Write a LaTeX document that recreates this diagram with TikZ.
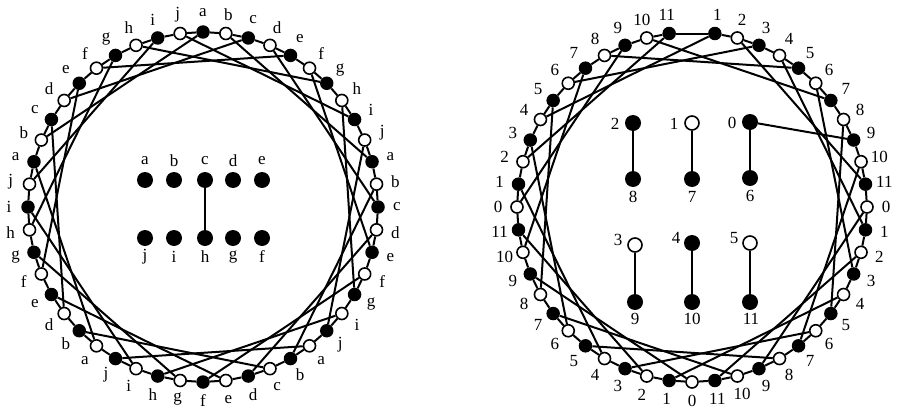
\documentclass[tikz,border=0pt]{standalone}
\usepackage{fontspec}
\setmainfont{Liberation Serif}
\begin{document}
\begin{tikzpicture}[x=1pt,y=-1pt,
  bv/.style={circle,fill=black,inner sep=0pt,minimum size=13.5pt},
  wv/.style={circle,draw=black,fill=white,line width=1.6pt,inner sep=0pt,minimum size=12pt},
  ibv/.style={circle,fill=black,inner sep=0pt,minimum size=16pt},
  iwv/.style={circle,draw=black,fill=white,line width=1.6pt,inner sep=0pt,minimum size=14pt},
  ed/.style={line width=2pt},
  lab/.style={font=\fontsize{17}{17}\selectfont,inner sep=0pt}]
\useasboundingbox (0,0) rectangle (901,412);

% ---------- left circle ----------
\foreach \p/\t in {0/a,1/b,2/c,3/d,4/e,5/f,6/g,7/h,8/i,9/j,10/a,11/b,12/c,13/d,14/e,15/f,16/g,
  17/i,18/j,19/a,20/b,21/c,22/d,23/e,24/f,25/g,26/h,27/i,28/j,29/a,30/b,
  31/d,32/e,33/f,34/g,35/h,36/i,37/j,38/a,39/b,40/c,41/d,42/e,43/f,44/g,45/h,46/i,47/j}{
  \pgfmathsetmacro\xx{203+175*sin(7.5*\p)}
  \pgfmathsetmacro\yy{207-175*cos(7.5*\p)}
  \pgfmathsetmacro\lx{203+194*sin(7.5*\p)}
  \pgfmathsetmacro\ly{207-194*cos(7.5*\p)}
  \ifodd\p
    \node[wv] (L\p) at (\xx,\yy) {};
  \else
    \node[bv] (L\p) at (\xx,\yy) {};
  \fi
  \node[lab] (LT\p) at (\lx,\ly) {\t};
}
\foreach \p in {0,...,47}{
  \pgfmathtruncatemacro\q{mod(\p+1,48)}
  \draw[ed] (L\p) -- (L\q);
}
\foreach \p in {1,3,...,47}{
  \pgfmathtruncatemacro\q{mod(\p+9,48)}
  \draw[ed] (L\p) -- (L\q);
}

% inner left
\foreach \n/\x in {a/145,b/174,c/205,d/233,e/262}{
  \node[ibv] (I\n) at (\x,180) {};
  \node[lab] at (\x,161) {\n};
}
\foreach \n/\x in {j/145,i/174,h/205,g/233,f/262}{
  \node[ibv] (I\n) at (\x,238) {};
  \node[lab] at (\x,257) {\n};
}
\draw[ed] (Ic) -- (Ih);

% ---------- right circle ----------
\foreach \p in {1,...,47}{
  \pgfmathsetmacro\xx{692+175*sin(7.5*\p)}
  \pgfmathsetmacro\yy{207-175*cos(7.5*\p)}
  \pgfmathsetmacro\lx{692+194*sin(7.5*\p)}
  \pgfmathsetmacro\ly{207-194*cos(7.5*\p)}
  \pgfmathtruncatemacro\n{mod(\p,12)}
  \ifodd\p
    \node[bv] (R\p) at (\xx,\yy) {};
  \else
    \node[wv] (R\p) at (\xx,\yy) {};
  \fi
  \node[lab] (RT\p) at (\lx,\ly) {\n};
}
\foreach \p in {1,...,46}{
  \pgfmathtruncatemacro\q{\p+1}
  \draw[ed] (R\p) -- (R\q);
}
\draw[ed] (R47) -- (R1);
\foreach \p in {2,4,...,46}{
  \pgfmathtruncatemacro\q{mod(\p+9,48)}
  \draw[ed] (R\p) -- (R\q);
}

% inner right
\node[ibv] (J2) at (633,123) {}; \node[lab] at (615,124) {2};
\node[iwv] (J1) at (692,123) {}; \node[lab] at (674,124) {1};
\node[ibv] (J0) at (750,122) {}; \node[lab] at (732,123) {0};
\node[ibv] (J8) at (633,179) {}; \node[lab] at (633,197) {8};
\node[ibv] (J7) at (692,179) {}; \node[lab] at (692,197) {7};
\node[ibv] (J6) at (750,178) {}; \node[lab] at (750,196) {6};
\node[iwv] (J3) at (635,245) {}; \node[lab] at (618,240) {3};
\node[ibv] (J4) at (692,243) {}; \node[lab] at (676,238) {4};
\node[iwv] (J5) at (750,243) {}; \node[lab] at (734,238) {5};
\node[ibv] (J9) at (635,302) {}; \node[lab] at (635,319) {9};
\node[ibv] (J10) at (692,302) {}; \node[lab] at (692,319) {10};
\node[ibv] (J11) at (750,302) {}; \node[lab] at (751,319) {11};
\draw[ed] (J2) -- (J8);
\draw[ed] (J1) -- (J7);
\draw[ed] (J0) -- (J6);
\draw[ed] (J3) -- (J9);
\draw[ed] (J4) -- (J10);
\draw[ed] (J5) -- (J11);
\draw[ed] (J0) -- (R9);
\end{tikzpicture}
\end{document}
